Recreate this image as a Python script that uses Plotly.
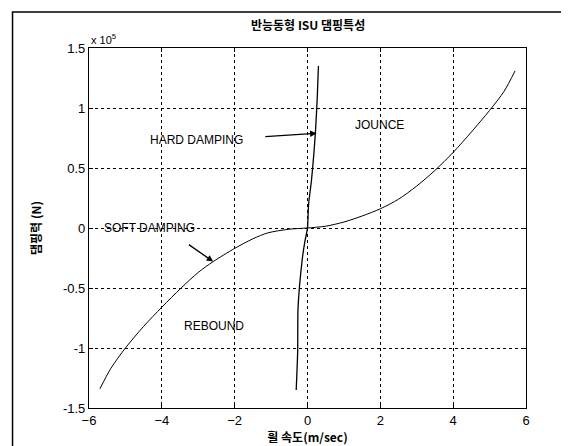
import plotly.graph_objects as go

# Soft damping curve (velocity m/s, force x1e5 N)
soft_v = [-5.7, -5.4, -5.0, -4.5, -4.0, -3.47, -3.0, -2.59, -2.0, -1.5, -1.08, -0.5, 0.0,
          0.5, 1.0, 1.5, 2.0, 2.5, 3.0, 3.5, 4.0, 4.5, 5.0, 5.4, 5.7]
soft_f = [-1.34, -1.17, -1.0, -0.82, -0.66, -0.5, -0.37, -0.28, -0.17, -0.09, -0.04, -0.01, 0.0,
          0.015, 0.05, 0.1, 0.16, 0.24, 0.35, 0.48, 0.63, 0.8, 0.98, 1.14, 1.31]

# Hard damping curve
hard_v = [-0.31, -0.27, -0.26, -0.14, -0.07, 0.0, 0.03, 0.11, 0.22, 0.27, 0.30]
hard_f = [-1.35, -1.03, -0.67, -0.25, -0.11, 0.0, 0.2, 0.4, 0.81, 1.1, 1.35]

x_ticks = [-6, -4, -2, 0, 2, 4, 6]
y_ticks = [-1.5, -1, -0.5, 0, 0.5, 1, 1.5]
y_tick_labels = ["-1.5", "-1", "-0.5", "0", "0.5", "1", "1.5"]

title = "반능동형 ISU 댐핑특성"
x_title = "휠 속도(m/sec)"
y_title = "댐핑력 (N)"

fig = go.Figure()
fig.add_trace(go.Scatter(x=soft_v, y=soft_f, mode="lines",
                         line=dict(color="black", width=1, shape="spline", smoothing=0.8),
                         showlegend=False))
fig.add_trace(go.Scatter(x=hard_v, y=hard_f, mode="lines",
                         line=dict(color="black", width=1.3, shape="spline", smoothing=0.6),
                         showlegend=False))

font_en = "Liberation Sans, Arial, sans-serif"
font_kr = "Noto Sans CJK KR, sans-serif"

annotations = [
    dict(x=-3.06, y=0.73, text="HARD DAMPING", showarrow=False, font=dict(family=font_en, size=12, color="black")),
    dict(x=1.97, y=0.86, text="JOUNCE", showarrow=False, font=dict(family=font_en, size=12, color="black")),
    dict(x=-4.35, y=0.0, text="SOFT DAMPING", showarrow=False, font=dict(family=font_en, size=12, color="black")),
    dict(x=-2.56, y=-0.82, text="REBOUND", showarrow=False, font=dict(family=font_en, size=12, color="black")),
    # arrows
    dict(x=0.25, y=0.79, ax=-1.2, ay=0.76, axref="x", ayref="y", text="", showarrow=True,
         arrowhead=2, arrowsize=1, arrowwidth=1.3, arrowcolor="black"),
    dict(x=-2.59, y=-0.28, ax=-3.3, ay=-0.13, axref="x", ayref="y", text="", showarrow=True,
         arrowhead=2, arrowsize=1, arrowwidth=1.3, arrowcolor="black"),
    dict(xref="paper", yref="paper", x=0.0, y=1.0, xanchor="left", yanchor="bottom",
         text="x 10<sup>5</sup>", showarrow=False, font=dict(family=font_en, size=11, color="black")),
    dict(xref="paper", yref="paper", x=0.5, y=1.035, xanchor="center", yanchor="bottom",
         text="<b>" + title + "</b>", showarrow=False, font=dict(family=font_kr, size=12, color="black")),
]

fig.update_layout(
    width=569, height=446,
    margin=dict(l=81, r=51, t=40, b=46),
    paper_bgcolor="white", plot_bgcolor="white",
    annotations=annotations,
    shapes=[dict(type="rect", xref="paper", yref="paper", x0=-0.175, x1=1.107, y0=-0.115, y1=1.1,
                 line=dict(color="black", width=1.5))],
    font=dict(family=font_en, size=12, color="black"),
)
fig.update_xaxes(range=[-6, 6], tickvals=x_ticks, ticks="inside", ticklen=4, tickcolor="black",
                 showline=True, linecolor="black", linewidth=1.2, mirror="ticks",
                 showgrid=True, gridcolor="black", gridwidth=1, griddash="3px,3px", zeroline=False,
                 title=dict(text="<b>" + x_title + "</b>", font=dict(family=font_kr, size=12), standoff=4),
                 tickfont=dict(family=font_en, size=13))
fig.update_yaxes(range=[-1.5, 1.5], tickvals=y_ticks, ticktext=y_tick_labels, ticks="inside", ticklen=4,
                 tickcolor="black", showline=True, linecolor="black", linewidth=1.2, mirror="ticks",
                 showgrid=True, gridcolor="black", gridwidth=1, griddash="3px,3px", zeroline=False,
                 title=dict(text="<b>" + y_title + "</b>", font=dict(family=font_kr, size=12), standoff=18),
                 tickfont=dict(family=font_en, size=13))

fig.write_html("out.html")
